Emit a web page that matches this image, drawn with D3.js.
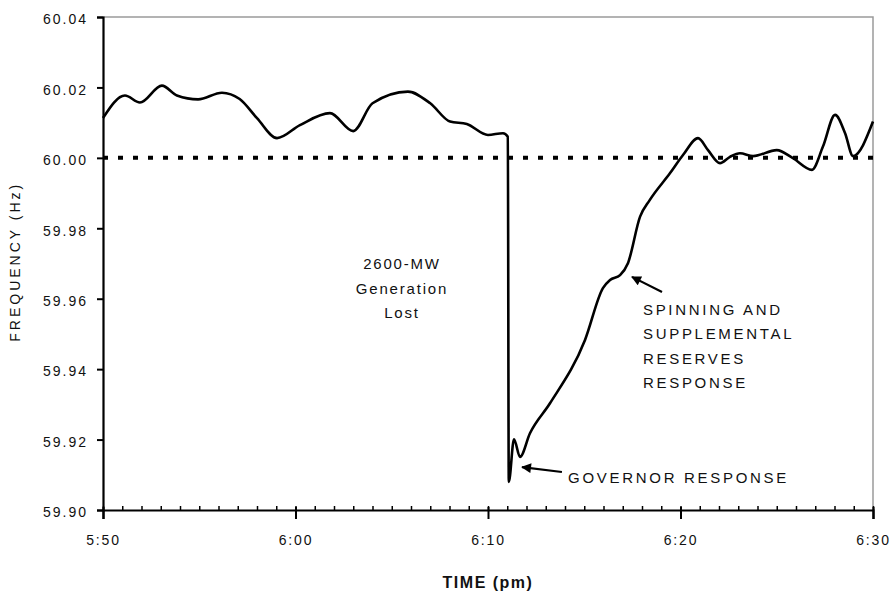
<!DOCTYPE html>
<html>
<head>
<meta charset="utf-8">
<script src="https://cdn.jsdelivr.net/npm/d3@7"></script>
<style>
  body { margin: 0; background: #fff; }
  text { font-family: "Liberation Sans", Arial, sans-serif; fill: #111; }
</style>
</head>
<body>
<div id="chart"></div>
<script>
// Minutes after 5:50 pm and frequency (Hz)
const minutes = [0, 1.14, 1.92, 3.06, 3.84, 4.94, 6.18, 7.1, 8.0, 9.04, 10.23, 11.79, 13.0, 14.0, 15.84, 17.0, 18.03, 18.9, 20.0, 20.78, 21.03,
  21.08, 21.35, 21.66, 22.18, 23.22, 25.04, 25.97, 26.34, 26.86, 27.27, 27.9, 28.4, 29.45, 30.13, 30.91, 31.43, 32.05, 32.57, 33.09, 33.77,
  35.0, 35.84, 36.83, 37.4, 38.03, 38.55, 38.96, 40];
const frequency = [60.0113, 60.0177, 60.0157, 60.0205, 60.0177, 60.0166, 60.0185, 60.0167, 60.0113, 60.0056, 60.0093, 60.0127, 60.0076,
  60.0155, 60.0188, 60.0155, 60.0103, 60.0096, 60.0065, 60.007, 60.006,
  59.908, 59.9201, 59.9151, 59.9218, 59.9303, 59.9483, 59.963, 59.9653, 59.9667, 59.9701, 59.9833, 59.988, 59.9956, 60.0008, 60.0056,
  60.0022, 59.9985, 60.0003, 60.0013, 60.0005, 60.0022, 59.9999, 59.9966, 60.0032, 60.0122, 60.007, 60.0005, 60.0103];

const nominal = 60.0;
const xTickValues = [0, 10, 20, 30, 40];
const xTickLabels = ["5:50", "6:00", "6:10", "6:20", "6:30"];
const yTickValues = [59.9, 59.92, 59.94, 59.96, 59.98, 60.0, 60.02, 60.04];

// Annotations, placed in data units (minutes, Hz)
const noteLost = { t: 15.53, v: 59.9684, lines: ["2600-MW", "Generation", "Lost"], spacing: 1.8 };
const noteSpin = { t: 28.05, v: 59.9554, lines: ["SPINNING AND", "SUPPLEMENTAL", "RESERVES", "RESPONSE"], spacing: 2.7 };
const noteGov = { t: 24.16, v: 59.9077, lines: ["GOVERNOR RESPONSE"], spacing: 2.7 };
const arrows = [
  { from: [29.04, 59.9619], to: [27.48, 59.9662] },
  { from: [23.84, 59.9108], to: [21.77, 59.9122] },
];

const data = minutes.map((m, i) => ({ t: m, v: frequency[i] }));

const margin = { top: 17, right: 20, bottom: 82, left: 103 };
const W = 893, H = 592;
const width = W - margin.left - margin.right;
const height = H - margin.top - margin.bottom;

const svg = d3.select("#chart").append("svg").attr("width", W).attr("height", H)
  .append("g").attr("transform", `translate(${margin.left},${margin.top})`);

const x = d3.scaleLinear().domain([0, 40]).range([0, width]);
const y = d3.scaleLinear().domain([59.9, 60.04]).range([height, 0]);

// Gray frame on top and right
svg.append("path")
  .attr("d", `M0,0H${width}V${height}`)
  .attr("fill", "none").attr("stroke", "#9a9a9a").attr("stroke-width", 1.5);

// 60.00 reference line, dotted
svg.append("line")
  .attr("x1", x(0)).attr("x2", x(40))
  .attr("y1", y(nominal)).attr("y2", y(nominal))
  .attr("stroke", "#000").attr("stroke-width", 4)
  .attr("stroke-dasharray", "5,10");

// Minor x ticks (every minute, pointing inward)
const xMinor = d3.axisBottom(x).tickValues(d3.range(0, 41, 1)).tickSize(-4).tickFormat("");
svg.append("g").attr("class", "x-minor").attr("transform", `translate(0,${height})`).call(xMinor)
  .call((g) => g.select(".domain").remove())
  .call((g) => g.selectAll("line").attr("stroke", "#000").attr("stroke-width", 1.5));

// X axis with major ticks
const xAxis = d3.axisBottom(x).tickValues(xTickValues).tickSize(9).tickPadding(16)
  .tickFormat((d, i) => xTickLabels[i]);
svg.append("g").attr("class", "x-axis").attr("transform", `translate(0,${height})`).call(xAxis)
  .call((g) => g.select(".domain").attr("stroke", "#000").attr("stroke-width", 2.2))
  .call((g) => g.selectAll(".tick line").attr("stroke", "#000").attr("stroke-width", 2).attr("y1", -3))
  .call((g) => g.selectAll(".tick text").attr("font-size", 14).attr("letter-spacing", "1.8px").attr("fill", "#111"));

// Y axis
const yAxis = d3.axisLeft(y).tickValues(yTickValues).tickSize(6).tickPadding(9).tickFormat(d3.format(".2f"));
svg.append("g").attr("class", "y-axis").call(yAxis)
  .call((g) => g.select(".domain").attr("stroke", "#000").attr("stroke-width", 2.2))
  .call((g) => g.selectAll(".tick line").attr("stroke", "#000").attr("stroke-width", 2))
  .call((g) => g.selectAll(".tick text").attr("font-size", 14).attr("letter-spacing", "2px").attr("dy", "0.48em").attr("fill", "#111"));

// Frequency trace
const line = d3.line().x((d) => x(d.t)).y((d) => y(d.v)).curve(d3.curveMonotoneX);
svg.append("path").datum(data)
  .attr("d", line)
  .attr("fill", "none").attr("stroke", "#000").attr("stroke-width", 2.6)
  .attr("stroke-linejoin", "round");

// Axis titles
svg.append("text")
  .attr("transform", `translate(${-83},${y(59.9705)}) rotate(-90)`)
  .attr("text-anchor", "middle")
  .attr("font-size", 14).attr("letter-spacing", "3px")
  .text("FREQUENCY (Hz)");

svg.append("text")
  .attr("x", x(20)).attr("y", height + 78)
  .attr("text-anchor", "middle")
  .attr("font-size", 16).attr("font-weight", "bold").attr("letter-spacing", "1.5px")
  .text("TIME (pm)");

// Annotation text blocks
function addNote(note, anchor) {
  const t = svg.append("text")
    .attr("x", x(note.t)).attr("y", y(note.v))
    .attr("text-anchor", anchor)
    .attr("font-size", 15).attr("letter-spacing", note.spacing + "px");
  note.lines.forEach((s, i) => {
    t.append("tspan").attr("x", x(note.t)).attr("dy", i === 0 ? 0 : 24.5).text(s);
  });
}
addNote(noteLost, "middle");
addNote(noteSpin, "start");
addNote(noteGov, "start");

// Arrows
svg.append("defs").append("marker")
  .attr("id", "head").attr("viewBox", "0 0 10 10")
  .attr("refX", 9).attr("refY", 5)
  .attr("markerWidth", 5).attr("markerHeight", 4.5)
  .attr("orient", "auto")
  .append("path").attr("d", "M0,0L10,5L0,10Z").attr("fill", "#000");

svg.selectAll("line.arrow").data(arrows).enter().append("line")
  .attr("class", "arrow")
  .attr("x1", (d) => x(d.from[0])).attr("y1", (d) => y(d.from[1]))
  .attr("x2", (d) => x(d.to[0])).attr("y2", (d) => y(d.to[1]))
  .attr("stroke", "#000").attr("stroke-width", 2.2)
  .attr("marker-end", "url(#head)");
</script>
</body>
</html>
